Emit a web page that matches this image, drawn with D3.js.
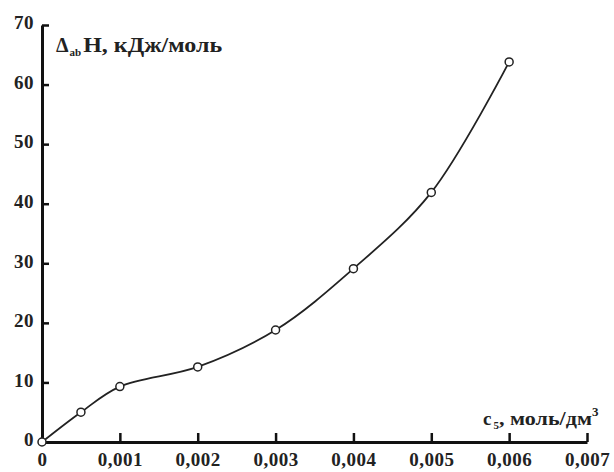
<!DOCTYPE html>
<html>
<head>
<meta charset="utf-8">
<script src="https://d3js.org/d3.v7.min.js"></script>
<style>
  body { margin: 0; background: #fff; }
  text { font-family: "Liberation Serif", "DejaVu Serif", serif; font-weight: bold; fill: #222; }
</style>
</head>
<body>
<svg width="614" height="472"></svg>
<script>
var concentration = [0, 0.0005, 0.001, 0.002, 0.003, 0.004, 0.005, 0.006];
var enthalpy = [0, 5, 9.3, 12.6, 18.8, 29.1, 41.9, 63.8];
var xTicks = [0, 0.001, 0.002, 0.003, 0.004, 0.005, 0.006, 0.007];
var xTickLabels = ["0", "0,001", "0,002", "0,003", "0,004", "0,005", "0,006", "0,007"];
var yTicks = [0, 10, 20, 30, 40, 50, 60, 70];

var svg = d3.select("svg");

var x = d3.scaleLinear().domain([0, 0.007]).range([42, 587]);
var y = d3.scaleLinear().domain([0, 70]).range([442, 25]);

var points = concentration.map(function(c, i) { return [c, enthalpy[i]]; });

// axes, ticks point inward
var xAxis = svg.append("g")
    .attr("transform", "translate(0," + y(0) + ")")
    .call(d3.axisBottom(x).tickValues(xTicks).tickSizeInner(-9).tickSizeOuter(0)
      .tickPadding(14)
      .tickFormat(function(d, i) { return xTickLabels[i]; }));

var yAxis = svg.append("g")
    .attr("transform", "translate(" + x(0) + ",0)")
    .call(d3.axisLeft(y).tickValues(yTicks).tickSizeInner(-7).tickSizeOuter(0)
      .tickPadding(8));

[xAxis, yAxis].forEach(function(a) {
  a.select(".domain").attr("stroke", "#111").attr("stroke-width", 3);
  a.selectAll(".tick line").attr("stroke", "#111").attr("stroke-width", 2.5);
  a.selectAll(".tick text")
    .attr("fill", "#222")
    .style("font-size", "19px")
    .style("font-family", "Liberation Serif")
    .style("font-weight", "bold")
    .style("letter-spacing", "0.5px");
});
xAxis.selectAll(".tick").filter(function(d) { return d === 0; }).select("line").remove();
yAxis.selectAll(".tick").filter(function(d) { return d === 0; }).select("line").remove();
xAxis.selectAll(".tick text").attr("dy", "0.55em");
yAxis.selectAll(".tick text").attr("dy", "0.2em");

// curve through the points
var line = d3.line()
    .x(function(d) { return x(d[0]); })
    .y(function(d) { return y(d[1]); })
    .curve(d3.curveCatmullRom.alpha(0.5));

svg.append("path")
    .datum(points)
    .attr("fill", "none")
    .attr("stroke", "#222")
    .attr("stroke-width", 1.8)
    .attr("d", line);

svg.selectAll("circle.pt")
    .data(points)
    .enter().append("circle")
    .attr("class", "pt")
    .attr("cx", function(d) { return x(d[0]); })
    .attr("cy", function(d) { return y(d[1]); })
    .attr("r", 4)
    .attr("fill", "#fff")
    .attr("stroke", "#222")
    .attr("stroke-width", 1.5);

// axis titles
var yTitle = svg.append("text").attr("x", 56).attr("y", 52).style("font-size", "20px");
yTitle.append("tspan").text("Δ");
yTitle.append("tspan").attr("dy", 4).attr("dx", 1).style("font-size", "11px").text("ab");
yTitle.append("tspan").attr("dy", -4).attr("dx", 2)
    .attr("textLength", 139).attr("lengthAdjust", "spacingAndGlyphs")
    .text("Н, кДж/моль");

var xTitle = svg.append("text").attr("x", 483).attr("y", 425).style("font-size", "19px");
xTitle.append("tspan").text("с");
xTitle.append("tspan").attr("dy", 4).attr("dx", 2).style("font-size", "11px").text("5");
xTitle.append("tspan").attr("dy", -4)
    .attr("textLength", 93).attr("lengthAdjust", "spacingAndGlyphs")
    .text(", моль/дм");
xTitle.append("tspan").attr("dy", -9).style("font-size", "13px").text("3");
</script>
</body>
</html>
